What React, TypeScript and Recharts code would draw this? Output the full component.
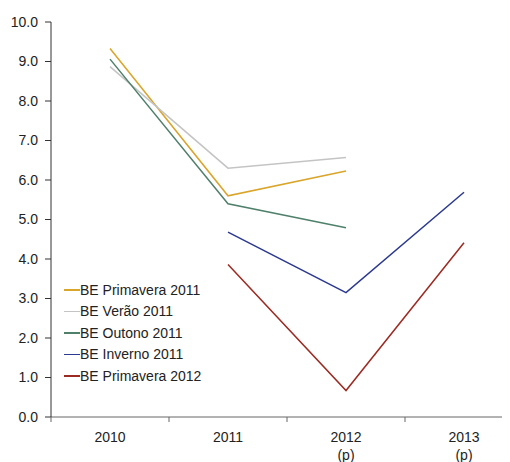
import { Legend, Line, LineChart, XAxis, YAxis } from "recharts";

const years = ["2010", "2011", "2012 (p)", "2013 (p)"];
const primavera2011 = [9.33, 5.6, 6.23, null];
const verao2011 = [8.87, 6.3, 6.57, null];
const outono2011 = [9.06, 5.4, 4.79, null];
const inverno2011 = [null, 4.68, 3.15, 5.69];
const primavera2012 = [null, 3.86, 0.67, 4.41];
const yTicks = [0, 1, 2, 3, 4, 5, 6, 7, 8, 9, 10];

const series = [
  { key: "p11", name: "BE Primavera 2011", values: primavera2011, color: "#D9A52A" },
  { key: "v11", name: "BE Verão 2011", values: verao2011, color: "#C4C4C4" },
  { key: "o11", name: "BE Outono 2011", values: outono2011, color: "#4F806B" },
  { key: "i11", name: "BE Inverno 2011", values: inverno2011, color: "#2B3990" },
  { key: "p12", name: "BE Primavera 2012", values: primavera2012, color: "#9C2A22" },
];

const data = years.map((year, i) => {
  const row: Record<string, string | number | null> = { year };
  series.forEach((s) => (row[s.key] = s.values[i]));
  return row;
});

const font = "'Liberation Sans', Arial, sans-serif";

function YearTick(props: any) {
  const { x, y, payload } = props;
  const half = payload?.offset ?? 59;
  const lines = String(payload.value).split(" ");
  return (
    <g>
      <line x1={x - half} x2={x - half} y1={y - 8} y2={y - 3} stroke="#666" />
      <text x={x} y={y} textAnchor="middle" fill="#222" fontSize={14} fontFamily={font}>
        {lines.map((l, i) => (
          <tspan key={i} x={x} dy={i === 0 ? 17 : 18}>
            {l}
          </tspan>
        ))}
      </text>
    </g>
  );
}

function LegendBox() {
  return (
    <div style={{ fontFamily: font, fontSize: 14, color: "#222" }}>
      {series.map((s) => (
        <div key={s.key} style={{ display: "flex", alignItems: "center", height: 21.5 }}>
          <span style={{ width: 16, height: 1.5, background: s.color }} />
          <span style={{ whiteSpace: "nowrap" }}>{s.name}</span>
        </div>
      ))}
    </div>
  );
}

export default function App() {
  return (
    <div style={{ width: 502, height: 454, overflow: "hidden", position: "relative" }}>
      <LineChart width={525} height={454} data={data} margin={{ top: 14, right: 10, left: 0, bottom: 0 }}>
        <XAxis
          dataKey="year"
          scale="band"
          height={45}
          axisLine={{ stroke: "#666" }}
          tickLine={false}
          tick={<YearTick />}
          tickSize={5}
          tickMargin={3}
          interval={0}
        />
        <YAxis
          width={43}
          domain={[0, 10]}
          ticks={yTicks}
          tickFormatter={(v: number) => v.toFixed(1)}
          tick={{ fill: "#222", fontSize: 14, fontFamily: font }}
          tickSize={6}
          tickMargin={7}
          axisLine={{ stroke: "#333" }}
          tickLine={{ stroke: "#333" }}
        />
        <Legend
          layout="horizontal"
          verticalAlign="middle"
          align="center"
          content={<LegendBox />}
          wrapperStyle={{ left: 56, top: 271, width: "auto" }}
        />
        {series.map((s) => (
          <Line
            key={s.key}
            dataKey={s.key}
            name={s.name}
            stroke={s.color}
            strokeWidth={1.5}
            dot={false}
            activeDot={false}
            isAnimationActive={false}
          />
        ))}
      </LineChart>
    </div>
  );
}
